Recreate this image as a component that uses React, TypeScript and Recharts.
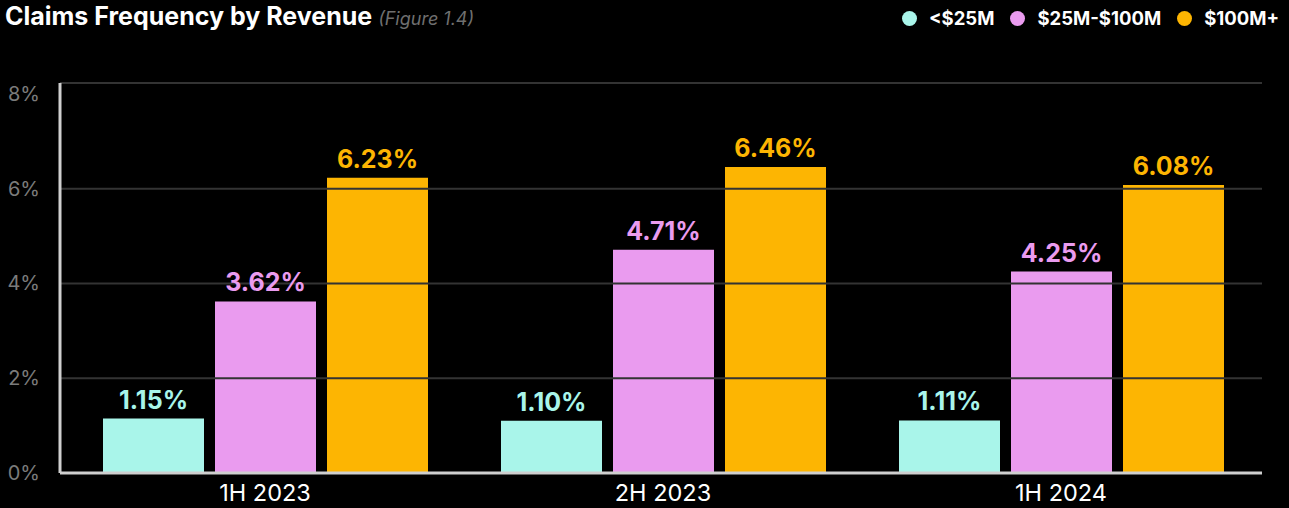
import { Bar, BarChart, LabelList, ReferenceLine, XAxis, YAxis } from 'recharts';

const periods = ['1H 2023', '2H 2023', '1H 2024'];
const small = [1.15, 1.1, 1.11];
const mid = [3.62, 4.71, 4.25];
const large = [6.23, 6.46, 6.08];
const yTicks = [0, 2, 4, 6, 8];
const gridAt = [2, 4, 6];
const yMax = 8.23;

const seriesList = [
  { key: 'small', name: '<$25M', color: '#a9f5ea' },
  { key: 'mid', name: '$25M-$100M', color: '#ea9bef' },
  { key: 'large', name: '$100M+', color: '#fdb502' },
];

const rows = periods.map((p, i) => ({ period: p, small: small[i], mid: mid[i], large: large[i] }));

const FONT = 'Inter, "Noto Sans", sans-serif';

function YTick(props: any) {
  const { x, y, payload } = props;
  return (
    <text x={x - 12} y={y + 7} textAnchor="end" fill="#7b7b7b" fontSize={20} fontFamily={FONT}>
      {payload.value}%
    </text>
  );
}

function XTick(props: any) {
  const { x, y, payload } = props;
  return (
    <text x={x} y={y + 20} textAnchor="middle" fill="#ffffff" fontSize={23.5} fontFamily={FONT}>
      {payload.value}
    </text>
  );
}

function topLabel(color: string) {
  return (props: any) => {
    const { x, y, width, value } = props;
    return (
      <text x={x + width / 2} y={y - 10} textAnchor="middle" fill={color} fontSize={25} fontWeight={700} fontFamily={FONT}>
        {value.toFixed(2)}%
      </text>
    );
  };
}

export default function App() {
  return (
    <div style={{ position: 'relative', width: 1289, height: 508, background: '#000', fontFamily: FONT, overflow: 'hidden' }}>
      <style>{`body{margin:0;background:#000}`}</style>
      <div style={{ position: 'absolute', left: 5, top: 1, color: '#fff', fontSize: 25, fontWeight: 700, whiteSpace: 'nowrap' }}>
        Claims Frequency by Revenue{' '}
        <span style={{ color: '#6f6f6f', fontSize: 18, fontStyle: 'italic', fontWeight: 400 }}>(Figure 1.4)</span>
      </div>
      <div style={{ position: 'absolute', right: 10, top: 7, display: 'flex', gap: 16, alignItems: 'center' }}>
        {seriesList.map((s) => (
          <div key={s.key} style={{ display: 'flex', alignItems: 'center', gap: 12, color: '#fff', fontSize: 18.5, fontWeight: 700 }}>
            <span style={{ width: 15, height: 15, borderRadius: '50%', background: s.color, display: 'inline-block' }} />
            {s.name}
          </div>
        ))}
      </div>
      <div style={{ position: 'absolute', left: 0, top: 0 }}>
        <BarChart width={1289} height={508} data={rows} margin={{ top: 83, right: 27, bottom: 5, left: 0 }} barSize={101} barGap={11}>
          {gridAt.map((g) => (
            <ReferenceLine key={g} y={g} stroke="#333" strokeWidth={2} />
          ))}
          <ReferenceLine y={yMax} stroke="#333" strokeWidth={2} />
          <XAxis dataKey="period" height={30} padding={{ left: 6, right: 2 }} axisLine={{ stroke: '#cfcfcf', strokeWidth: 3 }} tickLine={false} tick={<XTick />} />
          <YAxis width={60} domain={[0, yMax]} ticks={yTicks} axisLine={{ stroke: '#cfcfcf', strokeWidth: 3 }} tickLine={false} tick={<YTick />} interval={0} allowDataOverflow />
          {seriesList.map((s) => (
            <Bar key={s.key} dataKey={s.key} fill={s.color} isAnimationActive={false}>
              <LabelList dataKey={s.key} content={topLabel(s.color)} />
            </Bar>
          ))}
        </BarChart>
      </div>
    </div>
  );
}
